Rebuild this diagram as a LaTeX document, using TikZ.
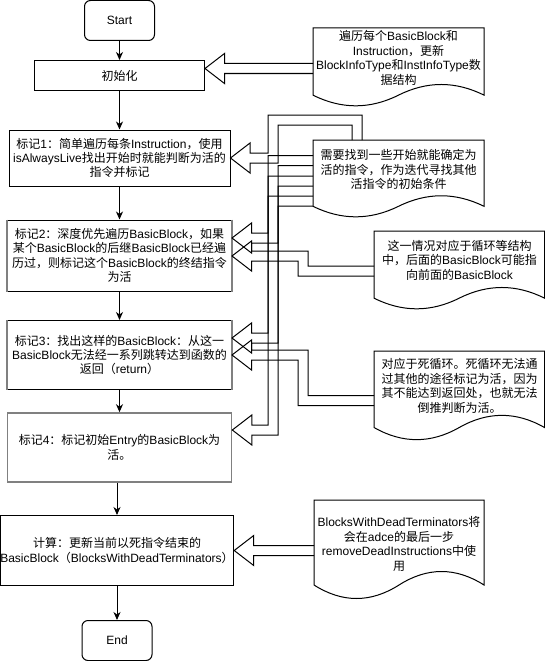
\documentclass[tikz,border=0pt]{standalone}
\usepackage{fontspec}
\setmainfont{Liberation Sans}
\newfontfamily\latinfont{Liberation Sans}
\newfontfamily\cjkfont{Noto Sans CJK SC}
\usepackage{tikz}
\usetikzlibrary{calc}
\usetikzlibrary{arrows.meta}

\XeTeXinterchartokenstate=1
\newXeTeXintercharclass\cjkclass
\newcount\cjkcode
\def\setcjkrange#1#2{\cjkcode=#1 \loop\XeTeXcharclass\cjkcode=\cjkclass\relax\ifnum\cjkcode<#2 \advance\cjkcode by 1 \repeat}
\setcjkrange{"3000}{"303F}
\setcjkrange{"4E00}{"9FFF}
\setcjkrange{"FF00}{"FFEF}
\XeTeXinterchartoks 0 \cjkclass = {\cjkfont}
\XeTeXinterchartoks 4095 \cjkclass = {\cjkfont}
\XeTeXinterchartoks \cjkclass 0 = {\latinfont}
\XeTeXinterchartoks \cjkclass 4095 = {\latinfont}

\newcommand{\docshape}[5]{%
	\coordinate (#1 nw) at (#2,#3);
	\draw (#2,#3) -- ({#2+#4},#3) -- ({#2+#4},{#3+0.85*#5})
		.. controls ({#2+0.8333*#4},{#3+0.67*#5}) and ({#2+0.6667*#4},{#3+0.67*#5}) .. ({#2+0.5*#4},{#3+0.85*#5})
		.. controls ({#2+0.3333*#4},{#3+1.03*#5}) and ({#2+0.1667*#4},{#3+1.03*#5}) .. (#2,{#3+0.85*#5}) -- cycle;}
\newcommand{\flexarrow}[2]{%
	\draw let \p1=(#1), \p2=(#2) in
		(\x2,\y1+5pt) -- (\x1+19.5pt,\y1+5pt) -- (\x1+19.5pt,\y1+15pt) -- (\x1,\y1)
		-- (\x1+19.5pt,\y1-15pt) -- (\x1+19.5pt,\y1-5pt) -- (\x2,\y1-5pt);}
\newcommand{\flexstep}[4]{%
	\draw let \p1=(#1), \p2=(#2) in
		(\x2,\y2+5pt) -- (#3pt,\y2+5pt) -- (#3pt,\y1+5pt) -- (\x1+19.5pt,\y1+5pt) -- (\x1+19.5pt,\y1+15pt) -- (\x1,\y1)
		-- (\x1+19.5pt,\y1-15pt) -- (\x1+19.5pt,\y1-5pt) -- (#4pt,\y1-5pt) -- (#4pt,\y2-5pt) -- (\x2,\y2-5pt);}

\begin{document}
\begin{tikzpicture}[x=1pt,y=-1pt,line width=1pt,
		box/.style={draw,font=\fontsize{12}{14.4}\selectfont,align=center,inner sep=0pt},
		term/.style={box,rounded corners=6pt,minimum width=70pt,minimum height=40pt},
		flow/.style={-{Stealth[length=8pt,width=7pt,inset=2.5pt]}},
		note/.style={font=\fontsize{12}{14.4}\selectfont,align=center,inner sep=0pt},
		edgegray/.style={draw=black!50,line width=1.6pt}]
		\useasboundingbox (0,0) rectangle (545,661);
		\node[term] (start) at (119.5,20.5) {Start};
		\node[box,minimum width=170pt,minimum height=30pt] (init) at (119.5,75.5) {初始化};
		\node[box,minimum width=221pt,minimum height=56pt] (m1) at (119.5,158)
			{标记1：简单遍历每条Instruction，使用\\isAlwaysLive找出开始时就能判断为活的\\指令并标记};
		\node[box,minimum width=224pt,minimum height=71pt] (m2) at (119.5,255.5)
			{标记2：深度优先遍历BasicBlock，如果\\某个BasicBlock的后继BasicBlock已经遍\\历过，则标记这个BasicBlock的终结指令\\为活};
		\node[box,minimum width=224pt,minimum height=69pt] (m3) at (119.5,355)
			{标记3：找出这样的BasicBlock：从这一\\BasicBlock无法经一系列跳转达到函数的\\返回（return）};
		\node[box,edgegray,minimum width=224pt,minimum height=69pt] (m4) at (119.5,447.5)
			{标记4：标记初始Entry的BasicBlock为\\活。};
		\node[box,minimum width=225pt,minimum height=70pt] (update) at (117,550.5)
			{计算：更新当前以死指令结束的\\BasicBlock（BlocksWithDeadTerminators）};
		\node[term] (end) at (117,640.5) {End};
		\draw[edgegray] (m2.north west) -- (m2.south west) (m2.north east) -- (m2.south east);
		\draw[edgegray] (m3.north west) -- (m3.south west) (m3.north east) -- (m3.south east);

		\draw[flow] (start) -- (init);
		\draw[flow] (init) -- (m1);
		\draw[flow] (m1) -- (m2);
		\draw[flow] (m2) -- (m3);
		\draw[flow] (m3) -- (m4);
		\draw[flow] (update.north |- m4.south) -- (update.north);
		\draw[flow] (update) -- (end);

		\docshape{n1}{313}{28}{171}{79}
		\docshape{n2}{313}{140}{171}{78}
		\docshape{n3}{374}{231}{170.5}{79}
		\docshape{n4}{374}{351}{170.5}{90}
		\docshape{n5}{314}{500}{170}{100}
		\node[note] (n1) at (398.5,58) {遍历每个BasicBlock和\\Instruction，更新\\BlockInfoType和InstInfoType数\\据结构};
		\node[note] (n2) at (398.5,169.5) {需要找到一些开始就能确定为\\活的指令，作为迭代寻找其他\\活指令的初始条件};
		\node[note] (n3) at (459.5,260) {这一情况对应于循环等结构\\中，后面的BasicBlock可能指\\向前面的BasicBlock};
		\node[note] (n4) at (459.5,386) {对应于死循环。死循环无法通\\过其他的途径标记为活，因为\\其不能达到返回处，也就无法\\倒推判断为活。};
		\node[note] (n5) at (399,544) {BlocksWithDeadTerminators将\\会在adce的最后一步\\removeDeadInstructions中使\\用};

		\flexarrow{$(init.east)+(0,-7)$}{n1 nw}
		\flexarrow{update.east}{n5 nw}
		\draw let \p1=(m1.east), \p2=($(n2 nw)+(44,0)$) in
			(\x2+5pt,\y2) -- (\x2+5pt,\y2+25pt) -- (268pt,\y2+25pt) -- (268pt,\y1+5pt) -- (\x1+19.5pt,\y1+5pt)
			-- (\x1+19.5pt,\y1+15pt) -- (\x1,\y1) -- (\x1+19.5pt,\y1-15pt) -- (\x1+19.5pt,\y1-5pt)
			-- (278pt,\y1-5pt) -- (278pt,\y2+15pt) -- (\x2-5pt,\y2+15pt) -- (\x2-5pt,\y2);
		\flexstep{$(m2.east)+(0,-17.5)$}{$(n2 nw)+(0,20.5)$}{268}{278}
		\flexstep{$(m3.east)+(0,-17)$}{$(n2 nw)+(0,41)$}{268}{278}
		\flexstep{$(m4.east)+(0,-17.5)$}{$(n2 nw)+(0,61)$}{268}{278}
		\flexstep{$(m2.east)+(0,0.5)$}{$(n3 nw)+(0,40)$}{308}{298}
		\flexstep{m3.east}{$(n4 nw)+(0,49.5)$}{308}{298}
	\end{tikzpicture}
\end{document}
